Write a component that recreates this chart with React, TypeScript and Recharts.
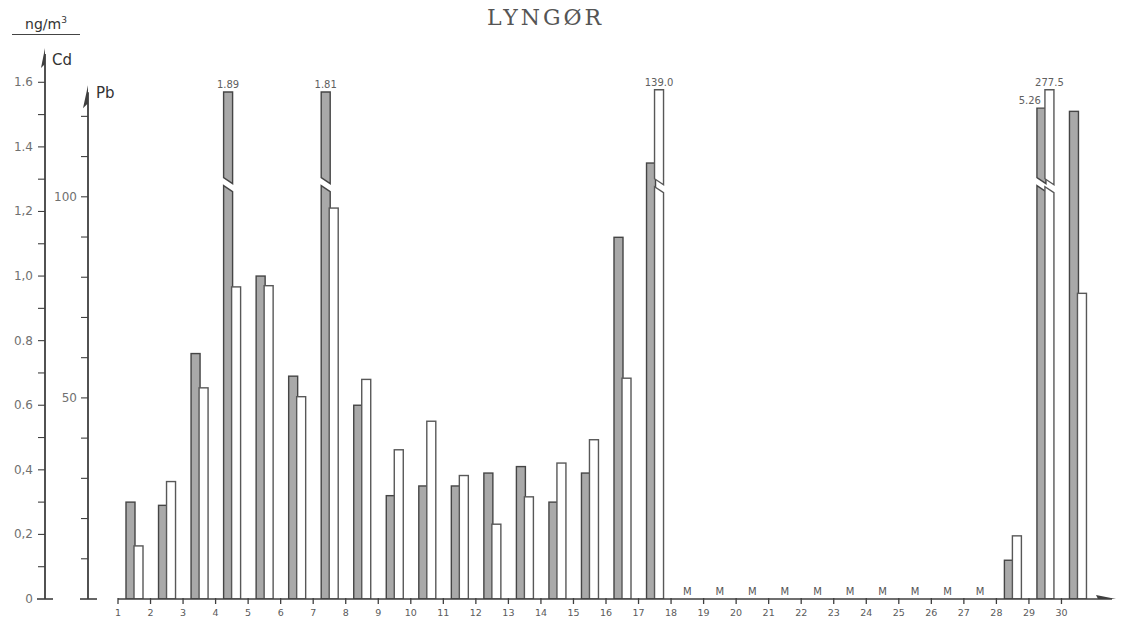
import React from "react";
import { BarChart, Bar, XAxis, YAxis } from "recharts";

// Daglige konsentrasjoner ved Lyngør, Cd og Pb (ng/m3)
const DAGER = [1, 2, 3, 4, 5, 6, 7, 8, 9, 10, 11, 12, 13, 14, 15, 16, 17, 18, 19, 20, 21, 22, 23, 24, 25, 26, 27, 28, 29, 30];

const CD = [
  0.3, 0.29, 0.76, 1.89, 1.0, 0.69, 1.81, 0.6, 0.32, 0.35, 0.35, 0.39, 0.41, 0.3, 0.39,
  1.12, 1.35, null, null, null, null, null, null, null, null, null, null, 0.12, 5.26, 1.51,
];

const PB = [
  13.2, 29.2, 52.5, 77.6, 77.9, 50.3, 97.2, 54.6, 37.1, 44.2, 30.7, 18.6, 25.4, 33.8, 39.6,
  54.9, 139.0, null, null, null, null, null, null, null, null, null, null, 15.7, 277.5, 76.0,
];

// dager uten måling (M)
const MANGLER = [18, 19, 20, 21, 22, 23, 24, 25, 26, 27];

const CD_TICKS = [0, 0.1, 0.2, 0.3, 0.4, 0.5, 0.6, 0.7, 0.8, 0.9, 1.0, 1.1, 1.2, 1.3, 1.4, 1.5, 1.6];
const CD_TICK_LABELS = ["0", "", "0,2", "", "0,4", "", "0.6", "", "0.8", "", "1,0", "", "1,2", "", "1.4", "", "1.6"];
const PB_TICKS = [0, 10, 20, 30, 40, 50, 60, 70, 80, 90, 100, 110, 120];
const PB_TICK_LABELS = ["", "", "", "", "", "50", "", "", "", "", "100", "", ""];

const W = 1124;
const H = 626;
const TOPP = 50;
const HOYRE = 30;
const X_AKSE_H = 27;
const CD_BREDDE = 60;
const PB_BREDDE = 58;
const PLOT_H = H - TOPP - X_AKSE_H;
const PLOT_W = W - HOYRE - CD_BREDDE - PB_BREDDE;
const BUNN = H - X_AKSE_H;
const BAND = PLOT_W / DAGER.length;

const CD_MAX = 1.7;
const PB_MAX = 136.5;
const CD_PPU = PLOT_H / CD_MAX;
const PB_PPU = PLOT_H / PB_MAX;

// brutte søyler: høyde på toppstykket og hvor bruddet ligger
const CD_KAPP = 1.57;
const CD_KAPP_29 = 1.52;
const PB_KAPP = 126.6;
const CD_BRUDD = 1.28;
const PB_BRUDD = 102.5;

const CD_X = 45;
const PB_X = 88;

const data = DAGER.map((day, i) => ({ day, cd: CD[i], pb: PB[i] }));

const akseFarge = "#3f3f3f";
const tekstFarge = "#707070";

function lagSoyle(
  key: "cd" | "pb",
  kapp: (day: number) => number,
  brudd: number,
  ppu: number,
  fill: string,
  stroke: string,
  fmt: (v: number) => string
) {
  return (props: any) => {
    const { x, y, width, height, payload } = props;
    const v = payload[key];
    if (v == null || !isFinite(y)) return null;
    const base = y + height;
    const cap = kapp(payload.day);
    if (v <= cap) {
      return <rect x={x} y={y} width={width} height={height} fill={fill} stroke={stroke} strokeWidth={1.4} />;
    }
    const top = base - cap * ppu;
    const lavTopp = base - brudd * ppu;
    const skra = 6;
    const opp = lavTopp - 8;
    const venstre = key === "cd" && payload.day === 29;
    return (
      <g>
        <polygon
          points={`${x},${base} ${x},${lavTopp} ${x + width},${lavTopp + skra} ${x + width},${base}`}
          fill={fill}
          stroke={stroke}
          strokeWidth={1.4}
        />
        <polygon
          points={`${x},${top} ${x + width},${top} ${x + width},${opp + skra} ${x},${opp}`}
          fill={fill}
          stroke={stroke}
          strokeWidth={1.4}
        />
        <text
          x={venstre ? x + 4 : x + width / 2}
          y={top - 4}
          textAnchor={venstre ? "end" : "middle"}
          fontSize={10}
          fill="#606060"
          fontFamily="DejaVu Sans"
        >
          {fmt(v)}
        </text>
      </g>
    );
  };
}

const cdSoyle = lagSoyle("cd", (d) => (d === 29 ? CD_KAPP_29 : CD_KAPP), CD_BRUDD, CD_PPU, "#a9a9a9", "#454545", (v) => v.toFixed(2));
const pbSoyle = lagSoyle("pb", () => PB_KAPP, PB_BRUDD, PB_PPU, "#ffffff", "#585858", (v) => v.toFixed(1));

function CdTick(props: any) {
  const { y, index } = props;
  const label = CD_TICK_LABELS[index];
  return (
    <g>
      {index === 0 && (
        <g>
          <line x1={CD_X} x2={CD_X} y1={y} y2={y - CD_MAX * CD_PPU + 4} stroke={akseFarge} strokeWidth={1.8} />
          <polygon points={`${CD_X},${y - CD_MAX * CD_PPU - 2} ${CD_X - 4},${y - CD_MAX * CD_PPU + 18} ${CD_X},${y - CD_MAX * CD_PPU + 14}`} fill={akseFarge} />
          <line x1={CD_X - 8} x2={CD_X + 8} y1={y} y2={y} stroke={akseFarge} strokeWidth={1.6} />
        </g>
      )}
      {index > 0 && <line x1={CD_X - 7} x2={CD_X} y1={y} y2={y} stroke={akseFarge} strokeWidth={1.1} />}
      {label && (
        <text x={CD_X - 12} y={y + 4} textAnchor="end" fontSize={12} fill={tekstFarge} fontFamily="DejaVu Sans">
          {label}
        </text>
      )}
    </g>
  );
}

function PbTick(props: any) {
  const { y, index } = props;
  const label = PB_TICK_LABELS[index];
  const topp = y - 127 * PB_PPU;
  return (
    <g>
      {index === 0 && (
        <g>
          <line x1={PB_X} x2={PB_X} y1={y} y2={topp + 4} stroke={akseFarge} strokeWidth={1.8} />
          <polygon points={`${PB_X},${topp - 3} ${PB_X - 5},${topp + 20} ${PB_X},${topp + 15}`} fill={akseFarge} />
          <line x1={PB_X - 8} x2={PB_X + 9} y1={y} y2={y} stroke={akseFarge} strokeWidth={1.6} />
        </g>
      )}
      {index > 0 && <line x1={PB_X - 7} x2={PB_X} y1={y} y2={y} stroke={akseFarge} strokeWidth={1.1} />}
      {label && (
        <text x={PB_X - 11} y={y + 4} textAnchor="end" fontSize={12} fill={tekstFarge} fontFamily="DejaVu Sans">
          {label}
        </text>
      )}
    </g>
  );
}

function DagTick(props: any) {
  const { x, payload, index } = props;
  const kant = x - BAND / 2;
  const dag = payload.value;
  const sist = index === DAGER.length - 1;
  return (
    <g>
      <line x1={kant} x2={kant} y1={BUNN - 1} y2={BUNN + 5} stroke={akseFarge} strokeWidth={1.3} />
      <text x={kant} y={BUNN + 17} textAnchor="middle" fontSize={9.5} fill="#5a5a5a" fontFamily="DejaVu Sans">
        {dag}
      </text>
      {MANGLER.includes(dag) && (
        <text x={x} y={BUNN - 4} textAnchor="middle" fontSize={10} fill="#555555" fontFamily="DejaVu Sans">
          M
        </text>
      )}
      {sist && (
        <g>
          <line x1={x + BAND / 2} x2={x + BAND / 2 + 18} y1={BUNN} y2={BUNN} stroke={akseFarge} strokeWidth={1.5} />
          <polygon points={`${x + BAND / 2 + 22},${BUNN} ${x + BAND / 2 + 2},${BUNN - 4} ${x + BAND / 2 + 4},${BUNN}`} fill={akseFarge} />
        </g>
      )}
    </g>
  );
}

export default function App() {
  return (
    <div style={{ position: "absolute", left: 0, top: 0, width: W, height: H, background: "#fff" }}>
      <BarChart
        width={W}
        height={H}
        data={data}
        margin={{ top: TOPP, right: HOYRE, bottom: 0, left: 0 }}
        barGap={-1}
      >
        <XAxis
          dataKey="day"
          height={X_AKSE_H}
          interval={0}
          tickLine={false}
          axisLine={{ stroke: akseFarge, strokeWidth: 1.5 }}
          tick={(p: any) => <DagTick {...p} />}
        />
        <YAxis
          yAxisId="cd"
          width={CD_BREDDE}
          domain={[0, CD_MAX]}
          ticks={CD_TICKS}
          interval={0}
          allowDataOverflow
          axisLine={false}
          tickLine={false}
          tick={(p: any) => <CdTick {...p} />}
        />
        <YAxis
          yAxisId="pb"
          width={PB_BREDDE}
          domain={[0, PB_MAX]}
          ticks={PB_TICKS}
          interval={0}
          allowDataOverflow
          axisLine={false}
          tickLine={false}
          tick={(p: any) => <PbTick {...p} />}
        />
        <Bar yAxisId="cd" dataKey="cd" barSize={9} isAnimationActive={false} shape={cdSoyle} />
        <Bar yAxisId="pb" dataKey="pb" barSize={9} isAnimationActive={false} shape={pbSoyle} />
      </BarChart>

      <div
        style={{
          position: "absolute",
          left: 487,
          top: 5,
          fontFamily: "'DejaVu Serif', serif",
          fontSize: 22,
          letterSpacing: 3,
          color: "#555",
          pointerEvents: "none",
        }}
      >
        LYNGØR
      </div>
      <div
        style={{
          position: "absolute",
          left: 12,
          top: 15,
          width: 68,
          textAlign: "center",
          fontFamily: "DejaVu Sans",
          fontSize: 14,
          color: "#333",
          borderBottom: "1.5px solid #444",
          paddingBottom: 2,
        }}
      >
        ng/m<sup style={{ fontSize: 9 }}>3</sup>
      </div>
      <div style={{ position: "absolute", left: 52, top: 51, fontFamily: "DejaVu Sans", fontSize: 15, color: "#333" }}>Cd</div>
      <div style={{ position: "absolute", left: 96, top: 84, fontFamily: "DejaVu Sans", fontSize: 15, color: "#333" }}>Pb</div>
    </div>
  );
}
